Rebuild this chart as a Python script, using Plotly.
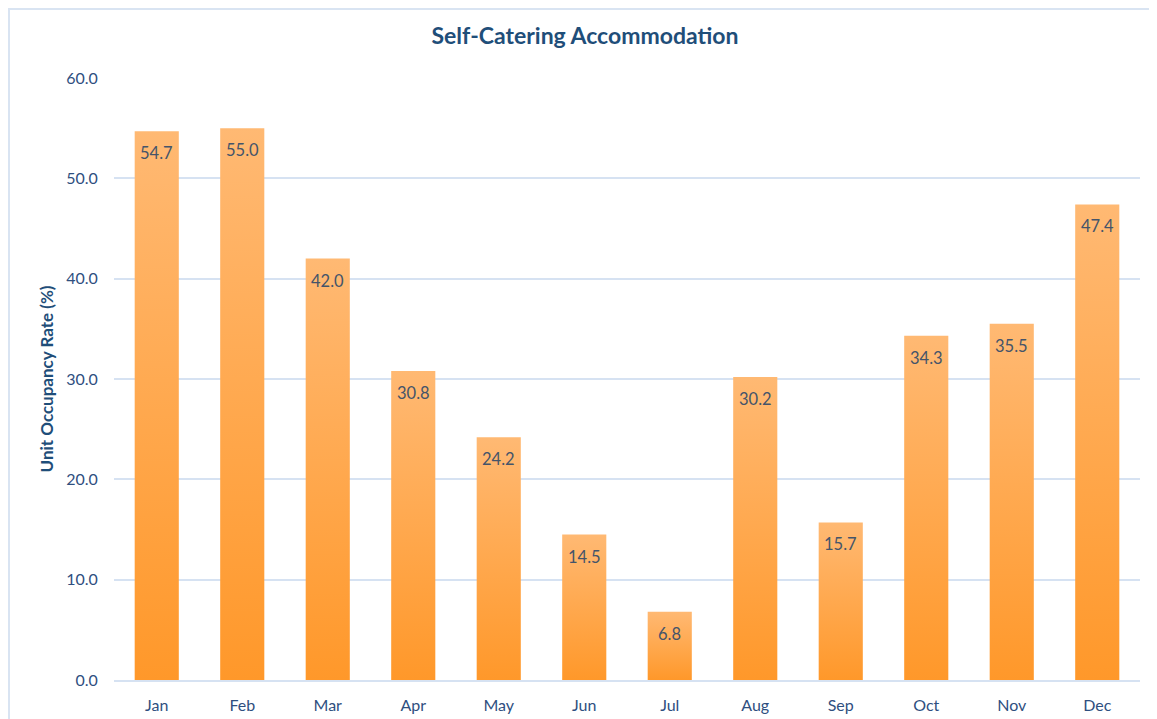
import plotly.graph_objects as go

months = ["Jan", "Feb", "Mar", "Apr", "May", "Jun", "Jul", "Aug", "Sep", "Oct", "Nov", "Dec"]
occupancy = [54.7, 55.0, 42.0, 30.8, 24.2, 14.5, 6.8, 30.2, 15.7, 34.3, 35.5, 47.4]
y_ticks = [0, 10, 20, 30, 40, 50, 60]
y_tick_labels = ["0.0", "10.0", "20.0", "30.0", "40.0", "50.0", "60.0"]

BAR_HALF = 0.258
TOP_COLOR = "#FFB973"
BOTTOM_COLOR = "#FF982A"
FONT = "Lato, 'Open Sans', sans-serif"

W, H = 1157, 719
ML, MR, MT, MB = 106, 25, 70, 47
PW = W - ML - MR
PH = H - MT - MB

fig = go.Figure()

for i, (m, v) in enumerate(zip(months, occupancy)):
    fig.add_trace(go.Scatter(
        x=[i - BAR_HALF, i - BAR_HALF, i + BAR_HALF, i + BAR_HALF, i - BAR_HALF],
        y=[0, v, v, 0, 0],
        mode="lines",
        line=dict(width=0, color=BOTTOM_COLOR),
        fill="toself",
        fillgradient=dict(type="vertical", start=0, stop=v,
                          colorscale=[[0, BOTTOM_COLOR], [1, TOP_COLOR]]),
        hoverinfo="skip",
        showlegend=False,
        name=m,
    ))

fig.add_trace(go.Scatter(
    x=list(range(len(months))), y=occupancy,
    mode="markers", marker=dict(size=1, opacity=0),
    text=months, hovertemplate="%{text}: %{y:.1f}<extra></extra>",
    showlegend=False,
))

for i, v in enumerate(occupancy):
    fig.add_annotation(
        x=i, y=v, text=f"{v:.1f}", showarrow=False,
        yanchor="middle", yshift=-22,
        font=dict(family=FONT, size=16.5, color="#44546A"),
    )

fig.update_layout(
    width=W, height=H,
    margin=dict(l=ML, r=MR, t=MT, b=MB),
    paper_bgcolor="white", plot_bgcolor="white",
    title=dict(text="<b>Self-Catering Accommodation</b>", x=577 / W, xanchor="center",
               y=1 - 28 / H, yanchor="middle",
               font=dict(family=FONT, size=23, color="#1F4E79")),
    xaxis=dict(
        tickmode="array", tickvals=list(range(len(months))), ticktext=months,
        range=[-0.5, len(months) - 0.5],
        showgrid=False, zeroline=False,
        showline=True, linecolor="#D6E2F2", linewidth=2,
        ticks="outside", ticklen=10, tickcolor="rgba(0,0,0,0)",
        tickfont=dict(family=FONT, size=16, color="#2F4F7F"),
        fixedrange=True,
    ),
    yaxis=dict(
        range=[0, 60], tickvals=y_ticks, ticktext=y_tick_labels,
        showgrid=True, gridcolor="#D6E2F2", gridwidth=2,
        zeroline=False, showline=False,
        ticks="outside", ticklen=12, tickcolor="rgba(0,0,0,0)",
        tickfont=dict(family=FONT, size=16, color="#2F4F7F"),
        title=dict(text="<b>Unit Occupancy Rate (%)</b>", standoff=8,
                   font=dict(family=FONT, size=17, color="#1F4E79")),
        fixedrange=True,
    ),
    shapes=[dict(
        type="rect", xref="paper", yref="paper",
        x0=(1 - ML) / PW, x1=1.2, y0=-0.3, y1=(PH + MT - 1) / PH,
        line=dict(color="#D9E4F2", width=2), fillcolor="rgba(0,0,0,0)", layer="below",
    )],
)

fig.write_html("out.html")
